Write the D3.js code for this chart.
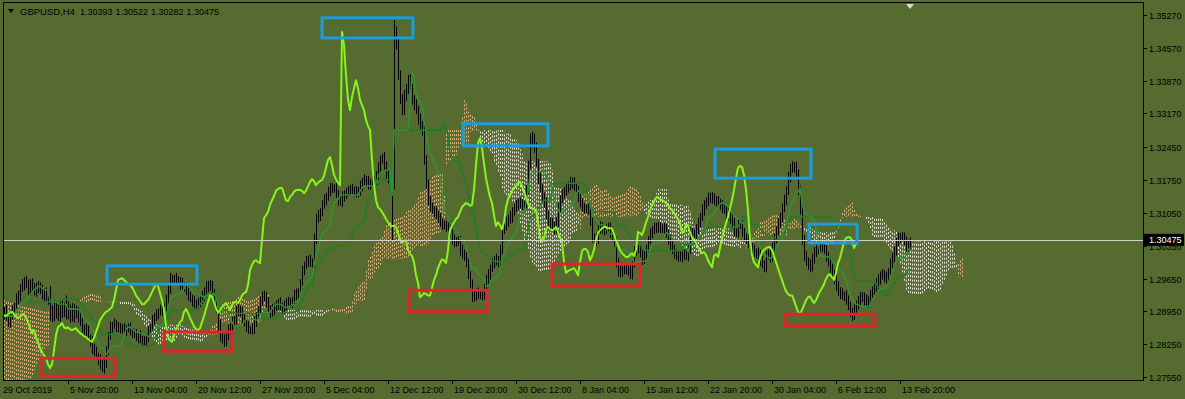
<!DOCTYPE html>
<html><head><meta charset="utf-8">
<script src="https://cdn.jsdelivr.net/npm/d3@7"></script>
<style>html,body{margin:0;padding:0;background:#556B2F;}svg{display:block;}</style>
</head><body>
<svg id="chart" width="1185" height="399"></svg>
<script>
// ---------- DATA ----------
const symbolLabel = "GBPUSD,H4";
const headerOHLC = [1.30393, 1.30522, 1.30282, 1.30475];
const lastPrice = 1.30475;

// H4 closes, one per bar (bar 0 = 29 Oct 2019)
const closes = [
1.2881,1.2876,1.2887,1.2894,1.2881,1.2872,1.2885,1.2898,1.2908,1.2919,
1.2929,1.2945,1.2951,1.2962,1.2951,1.2940,1.2956,1.2947,1.2936,1.2945,
1.2951,1.2940,1.2929,1.2936,1.2923,1.2919,1.2883,1.2883,1.2885,1.2887,
1.2885,1.2889,1.2892,1.2894,1.2889,1.2885,1.2881,1.2883,1.2889,1.2889,
1.2881,1.2872,1.2859,1.2849,1.2855,1.2838,1.2830,1.2817,1.2808,1.2801,
1.2795,1.2782,1.2774,1.2782,1.2812,1.2844,1.2861,1.2865,1.2870,1.2861,
1.2859,1.2861,1.2857,1.2855,1.2857,1.2859,1.2853,1.2849,1.2846,1.2842,
1.2840,1.2836,1.2832,1.2830,1.2838,1.2851,1.2863,1.2876,1.2883,1.2889,
1.2894,1.2896,1.2900,1.2904,1.2919,1.2940,1.2962,1.2964,1.2966,1.2962,
1.2958,1.2953,1.2951,1.2947,1.2938,1.2929,1.2923,1.2917,1.2910,1.2910,
1.2915,1.2919,1.2927,1.2936,1.2945,1.2953,1.2949,1.2934,1.2919,1.2900,
1.2865,1.2840,1.2834,1.2830,1.2844,1.2857,1.2863,1.2872,1.2876,1.2894,
1.2900,1.2892,1.2881,1.2872,1.2863,1.2857,1.2855,1.2859,1.2872,1.2885,
1.2900,1.2915,1.2929,1.2927,1.2915,1.2902,1.2892,1.2898,1.2904,1.2908,
1.2913,1.2906,1.2898,1.2908,1.2915,1.2915,1.2913,1.2919,1.2929,1.2934,
1.2936,1.2951,1.2983,1.2994,1.3002,1.3004,1.3000,1.2998,1.3047,1.3094,
1.3100,1.3107,1.3122,1.3132,1.3141,1.3152,1.3156,1.3158,1.3158,1.3145,
1.3132,1.3130,1.3139,1.3143,1.3150,1.3154,1.3154,1.3154,1.3152,1.3147,
1.3152,1.3162,1.3171,1.3177,1.3173,1.3164,1.3169,1.3173,1.3175,1.3184,
1.3201,1.3218,1.3224,1.3207,1.3186,1.3177,1.3169,1.3164,1.3491,1.3463,
1.3399,1.3346,1.3324,1.3352,1.3371,1.3388,1.3371,1.3346,1.3335,1.3324,
1.3303,1.3290,1.3282,1.3218,1.3164,1.3132,1.3117,1.3113,1.3107,1.3100,
1.3092,1.3085,1.3079,1.3077,1.3077,1.3075,1.3062,1.3049,1.3041,1.3045,
1.3047,1.3026,1.3017,1.3013,1.3000,1.2972,1.2956,1.2925,1.2929,1.2934,
1.2932,1.2929,1.2929,1.2945,1.2962,1.2972,1.2987,1.2998,1.3006,1.3004,
1.2998,1.3026,1.3068,1.3079,1.3085,1.3092,1.3096,1.3107,1.3117,1.3122,
1.3126,1.3124,1.3120,1.3122,1.3154,1.3207,1.3254,1.3264,1.3243,1.3211,
1.3179,1.3158,1.3139,1.3126,1.3100,1.3077,1.3085,1.3079,1.3070,1.3085,
1.3117,1.3134,1.3143,1.3152,1.3158,1.3162,1.3169,1.3171,1.3162,1.3150,
1.3139,1.3126,1.3117,1.3115,1.3113,1.3111,1.3085,1.3053,1.3043,1.3051,
1.3070,1.3075,1.3070,1.3068,1.3070,1.3075,1.3064,1.3053,1.3043,1.3000,
1.2977,1.2981,1.2983,1.2985,1.2987,1.2981,1.2972,1.3000,1.3024,1.3028,
1.3028,1.3021,1.3004,1.3013,1.3026,1.3047,1.3062,1.3068,1.3072,1.3075,
1.3075,1.3072,1.3072,1.3072,1.3060,1.3047,1.3036,1.3026,1.3019,1.3015,
1.3011,1.3011,1.3015,1.3019,1.3013,1.3026,1.3064,1.3062,1.3058,1.3070,
1.3085,1.3096,1.3111,1.3122,1.3130,1.3137,1.3139,1.3134,1.3132,1.3130,
1.3126,1.3122,1.3115,1.3111,1.3105,1.3098,1.3092,1.3083,1.3064,1.3064,
1.3081,1.3079,1.3064,1.3053,1.3049,1.3041,1.3032,1.3026,1.3019,1.3021,
1.3015,1.3004,1.2996,1.2989,1.3013,1.3017,1.3011,1.3030,1.3051,1.3068,
1.3083,1.3096,1.3115,1.3132,1.3154,1.3179,1.3201,1.3205,1.3203,1.3186,
1.3154,1.3111,1.3047,1.3015,1.3000,1.2994,1.2989,1.3009,1.3021,1.3026,
1.3030,1.3032,1.3032,1.3026,1.3013,1.3000,1.2987,1.2974,1.2962,1.2949,
1.2938,1.2932,1.2929,1.2929,1.2919,1.2906,1.2894,1.2889,1.2898,1.2908,
1.2919,1.2925,1.2927,1.2919,1.2913,1.2919,1.2929,1.2938,1.2945,1.2953,
1.2964,1.2972,1.2974,1.2968,1.2962,1.2977,1.2998,1.3009,1.3026,1.3043,
1.3051,1.3053,1.3053,1.3047,1.3030,1.3039,1.30475];

// upper / lower shadows in pips, one per bar
const wickUpPips = [
8,12,6,10,15,7,9,11,5,14,10,8,13,6,9,12,7,10,8,11,
9,6,12,8,10,7,30,25,34,28,22,31,26,20,35,27,24,30,22,18,
15,12,9,8,14,10,7,12,9,11,6,8,10,13,9,7,12,8,10,6,
11,9,7,13,8,10,12,6,9,11,8,14,7,10,9,12,6,11,8,10,
7,13,9,8,12,10,15,9,7,11,8,10,13,6,9,12,8,7,11,10,
9,8,12,10,14,7,9,11,8,6,10,13,9,12,7,10,8,11,9,13,
10,7,12,9,8,11,6,10,13,9,7,12,8,10,9,11,7,13,8,10,
9,12,7,10,8,11,9,6,12,10,8,13,9,7,11,10,12,8,14,9,
11,8,10,12,7,9,13,10,8,11,9,7,12,10,8,9,11,13,7,10,
8,12,9,10,7,11,9,13,8,10,12,9,7,11,8,10,9,6,25,12,
14,10,12,15,9,11,13,8,10,12,9,14,11,8,10,12,9,11,7,10,
9,12,8,10,11,7,13,9,10,8,12,9,11,10,8,13,9,7,11,10,
12,8,10,9,11,13,8,10,7,12,9,11,10,8,12,9,13,10,8,11,
9,12,10,8,11,9,20,14,10,12,9,11,8,10,13,9,11,10,8,12,
10,9,12,8,11,10,13,9,10,8,12,9,11,10,7,12,9,10,8,11,
9,12,10,8,11,9,10,12,8,10,9,11,8,12,10,9,11,8,10,12,
9,10,8,12,11,9,10,8,12,9,11,10,8,13,9,10,12,8,11,9,
10,12,8,9,11,10,12,9,8,11,10,9,12,10,8,11,9,10,12,8,
11,9,10,12,8,10,9,11,12,8,10,9,11,10,8,12,9,10,11,8,
10,12,9,8,11,10,9,12,10,8,11,9,10,12,8,14,9,10,8,11,
12,10,9,11,8,10,12,9,11,10,8,12,9,10,11,8,12,10,9,11,
10,9,12,8,11,10,9,8,12,10,9,11,10,8,12,9,11,10,9,12,
10,8,11,9,12,10,9,11,8,10,12,9,11,10,8,9,5];
const wickDownPips = [
10,7,13,9,6,11,12,8,10,7,9,13,8,11,6,10,12,9,7,10,
11,8,9,12,7,10,8,11,9,6,10,12,8,9,11,7,10,8,12,9,
10,8,11,9,12,7,10,13,9,8,14,11,9,12,8,10,9,11,7,10,
8,11,9,10,12,7,9,11,8,10,13,9,10,7,11,9,8,12,10,9,
11,8,10,9,12,10,8,11,9,10,7,12,9,10,8,11,9,12,8,10,
9,11,8,10,12,9,10,8,11,9,12,10,8,11,9,10,12,8,10,9,
10,8,12,9,11,10,8,9,12,10,9,11,8,10,12,9,10,8,11,9,
11,9,10,8,12,10,9,11,8,10,12,9,10,11,8,12,10,9,11,8,
10,12,9,8,11,10,12,9,10,8,11,9,12,10,8,9,11,10,12,9,
9,10,11,8,12,9,10,8,11,10,9,12,8,10,11,9,10,117,9,10,
10,9,11,10,8,12,9,10,11,8,10,9,12,10,8,11,9,10,12,9,
9,11,10,8,12,9,10,11,9,8,10,12,9,10,11,8,12,10,9,11,
10,8,11,9,10,12,9,8,11,10,9,12,10,8,11,9,10,12,8,10,
11,9,10,12,8,10,9,11,10,8,12,9,11,10,9,8,12,10,11,9,
10,12,9,8,11,10,9,12,10,8,11,9,10,12,9,10,8,11,10,9,
12,10,9,11,8,10,12,9,10,11,8,10,12,9,11,10,8,9,12,10,
9,11,10,8,12,10,9,11,8,10,12,9,10,11,8,10,12,9,11,10,
10,9,12,10,8,11,9,10,12,9,11,10,8,12,9,10,11,9,10,12,
9,10,11,8,12,9,10,11,9,10,12,8,10,9,11,12,9,10,8,11,
10,12,9,10,11,8,12,10,9,11,10,9,12,8,10,11,9,10,12,9,
11,9,10,12,8,10,11,9,12,10,9,11,10,8,12,9,10,11,9,10,
10,11,9,12,10,8,11,15,12,10,9,11,10,12,9,10,8,11,10,9,
10,12,9,11,8,10,9,11,10,12,9,10,8,11,10,9,11];

// Ichimoku settings and the cloud already projected onto the first 26 bars (from earlier history)
const ichimokuPeriods = [9, 26, 52];
const leadSpanA = [1.2923,1.2923,1.2919,1.2919,1.2915,1.2915,1.2913,1.2913,1.2911,1.2908,
  1.2908,1.2906,1.2906,1.2904,1.2904,1.2902,1.2902,1.2900,1.2900,1.2898,1.2898,1.2896,1.2896,1.2894,1.2894,1.2894];
const leadSpanB = [1.2723,1.2723,1.2723,1.2725,1.2725,1.2727,1.2727,1.2727,1.2729,1.2729,
  1.2731,1.2731,1.2734,1.2736,1.2738,1.2742,1.2748,1.2759,1.2770,1.2780,1.2791,1.2800,1.2808,1.2815,1.2819,1.2823];

const priceTicks = [1.35270,1.34570,1.33870,1.33170,1.32450,1.31750,1.31050,1.30350,1.29650,1.28950,1.28250,1.27550];
const timeLabels = ["29 Oct 2019","5 Nov 20:00","13 Nov 04:00","20 Nov 12:00","27 Nov 20:00","5 Dec 04:00","12 Dec 12:00",
  "19 Dec 20:00","30 Dec 12:00","8 Jan 04:00","15 Jan 12:00","22 Jan 20:00","30 Jan 04:00","6 Feb 12:00","13 Feb 20:00"];
const timeLabelBars = [0,35,67,99,131,163,195,227,259,291,323,355,387,419,451];

// annotation boxes: [firstBar, lastBar, topPrice, bottomPrice]
const blueBoxes = [[54.5,99.5,1.2992,1.2953],[162,207.5,1.3521,1.3478],[232.5,275,1.3295,1.3248],
  [358.5,406.5,1.3241,1.3179],[405.5,429.5,1.3081,1.3041]];
const redBoxes = [[21.5,58.5,1.2795,1.2757],[83,117,1.2851,1.2810],[205.5,244.5,1.2940,1.2894],
  [277,321,1.2996,1.2949],[393.5,438.5,1.2889,1.2864]];

// ---------- DERIVED ----------
const N = closes.length;
const opens = closes.map((c, i) => i ? closes[i - 1] : c);
const highs = closes.map((c, i) => Math.max(opens[i], c) + wickUpPips[i] / 1e4);
const lows = closes.map((c, i) => Math.min(opens[i], c) - wickDownPips[i] / 1e4);
const [pT, pK, pB] = ichimokuPeriods;
const mid = (i, p) => { const s = Math.max(0, i - p + 1); return (d3.max(highs.slice(s, i + 1)) + d3.min(lows.slice(s, i + 1))) / 2; };
const tenkan = closes.map((_, i) => mid(i, pT));
const kijun = closes.map((_, i) => mid(i, pK));
const cloud = leadSpanA.map((a, i) => ({bar: i, a, b: leadSpanB[i]}));
for (let i = 0; i < N; i++) cloud.push({bar: i + pK, a: (tenkan[i] + kijun[i]) / 2, b: mid(i, pB)});
const chikou = closes.map((c, i) => ({bar: i - pK, v: c}));

// ---------- LAYOUT ----------
const plot = {left: 3, top: 2, right: 1143, bottom: 380};
const x = d3.scaleLinear().domain([0, 572]).range([-2, 1142]);
const y = d3.scaleLinear().domain([1.27550, 1.35270]).range([377, 15]);
const font = "'Liberation Sans', Arial, sans-serif";

const svg = d3.select("#chart");
svg.append("rect").attr("width", 1185).attr("height", 399).attr("fill", "#556B2F");
svg.append("defs").append("clipPath").attr("id", "clip").append("rect")
  .attr("x", plot.left).attr("y", plot.top).attr("width", plot.right - plot.left).attr("height", plot.bottom - plot.top);
const g = svg.append("g").attr("clip-path", "url(#clip)");

// cloud hatch
g.append("g").selectAll("line").data(cloud).join("line")
  .attr("x1", d => Math.round(x(d.bar)) + 0.5).attr("x2", d => Math.round(x(d.bar)) + 0.5)
  .attr("y1", d => y(d.a)).attr("y2", d => y(d.b))
  .attr("stroke", d => d.a >= d.b ? "#E3B27E" : "#E8E2DA")
  .attr("stroke-width", 1).attr("stroke-dasharray", "2,2");

// price bars
g.append("g").selectAll("line").data(closes).join("line")
  .attr("x1", (d, i) => Math.round(x(i)) + 0.5).attr("x2", (d, i) => Math.round(x(i)) + 0.5)
  .attr("y1", (d, i) => y(highs[i])).attr("y2", (d, i) => y(lows[i]))
  .attr("stroke", "#000").attr("stroke-width", 1);

// tenkan / kijun
const ln = d3.line().x((d, i) => x(i)).y(d => y(d));
g.append("path").datum(kijun).attr("d", ln).attr("fill", "none").attr("stroke", "#1F7F22").attr("stroke-width", 1.6);
g.append("path").datum(tenkan).attr("d", ln).attr("fill", "none").attr("stroke", "#2E9632").attr("stroke-width", 1.4);

// chikou
g.append("path").datum(chikou)
  .attr("d", d3.line().x(d => x(d.bar)).y(d => y(d.v)))
  .attr("fill", "none").attr("stroke", "#86F51A").attr("stroke-width", 2).attr("stroke-linejoin", "round");

// current price line
g.append("line").attr("x1", plot.left).attr("x2", plot.right)
  .attr("y1", Math.round(y(lastPrice)) + 0.5).attr("y2", Math.round(y(lastPrice)) + 0.5)
  .attr("stroke", "#D0D0C4").attr("stroke-width", 1);

// annotation boxes
const drawBoxes = (arr, col) => g.append("g").selectAll("rect").data(arr).join("rect")
  .attr("x", d => x(d[0])).attr("y", d => y(d[2]))
  .attr("width", d => x(d[1]) - x(d[0])).attr("height", d => y(d[3]) - y(d[2]))
  .attr("fill", "none").attr("stroke", col).attr("stroke-width", 3);
drawBoxes(blueBoxes, "#1C9CD8");
drawBoxes(redBoxes, "#E0242A");

// frame
svg.append("rect").attr("x", plot.left + 0.5).attr("y", plot.top + 0.5)
  .attr("width", plot.right - plot.left).attr("height", plot.bottom - plot.top)
  .attr("fill", "none").attr("stroke", "#000").attr("stroke-width", 1);

// right price axis
const ya = svg.append("g");
priceTicks.forEach(p => {
  const yy = Math.round(y(p)) + 0.5;
  ya.append("line").attr("x1", plot.right).attr("x2", plot.right + 4).attr("y1", yy).attr("y2", yy).attr("stroke", "#000");
  ya.append("text").attr("x", 1149).attr("y", yy).attr("dy", "0.35em").attr("font-family", font)
    .attr("font-size", 9).attr("fill", "#000").text(p.toFixed(5));
});
const ly = y(lastPrice);
ya.append("rect").attr("x", 1144).attr("y", ly - 6).attr("width", 40).attr("height", 12).attr("fill", "#000");
ya.append("text").attr("x", 1149).attr("y", ly).attr("dy", "0.35em").attr("font-family", font)
  .attr("font-size", 9).attr("fill", "#fff").text(lastPrice.toFixed(5));

// bottom time axis
const xa = svg.append("g");
timeLabels.forEach((t, k) => {
  const xx = Math.round(x(timeLabelBars[k])) + 0.5;
  if (k > 0) xa.append("line").attr("x1", xx).attr("x2", xx).attr("y1", plot.bottom).attr("y2", plot.bottom + 4).attr("stroke", "#000");
  xa.append("text").attr("x", Math.max(xx + 1.5, 3)).attr("y", 393).attr("font-family", font)
    .attr("font-size", 9).attr("fill", "#000").text(t);
});

// header
svg.append("path").attr("d", "M8,9 L14,9 L11,13 Z").attr("fill", "#000");
svg.append("text").attr("x", 20).attr("y", 15).attr("font-family", font).attr("font-size", 9.5).attr("fill", "#000")
  .text(symbolLabel);
svg.append("g").selectAll("text").data(headerOHLC).join("text")
  .attr("x", (d, k) => 80 + k * 35.5).attr("y", 15).attr("font-family", font).attr("font-size", 9).attr("fill", "#000")
  .text(d => d.toFixed(5));

// chart shift marker
const sx = x(N - 1);
svg.append("path").attr("d", `M${sx - 4},4 L${sx + 4},4 L${sx},9 Z`).attr("fill", "#D8D8D0");
</script>
</body></html>
